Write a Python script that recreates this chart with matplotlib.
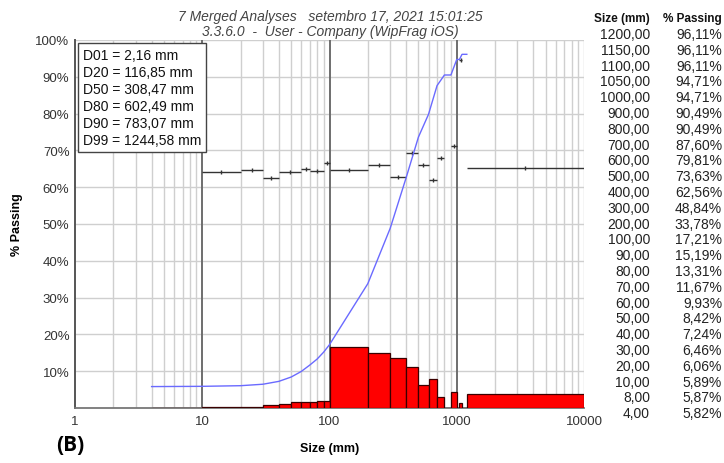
import matplotlib.pyplot as plt
import matplotlib.ticker as mticker
import numpy as np

plt.rcParams['font.family'] = ['Liberation Sans', 'DejaVu Sans']

# cumulative passing (table at right)
sizes = [1200, 1150, 1100, 1050, 1000, 900, 800, 700, 600, 500, 400, 300, 200,
         100, 90, 80, 70, 60, 50, 40, 30, 20, 10, 8, 4]
passing = [96.11, 96.11, 96.11, 94.71, 94.71, 90.49, 90.49, 87.60, 79.81, 73.63,
           62.56, 48.84, 33.78, 17.21, 15.19, 13.31, 11.67, 9.93, 8.42, 7.24,
           6.46, 6.06, 5.89, 5.87, 5.82]

# histogram bins (red bars)
bin_edges = [4, 8, 10, 20, 30, 40, 50, 60, 70, 80, 90, 100, 200, 300, 400, 500,
             600, 700, 800, 900, 1000, 1050, 1100, 1200, 10000]
bin_pct = [0.05, 0.02, 0.17, 0.40, 0.78, 1.18, 1.51, 1.74, 1.64, 1.88, 2.02,
           16.57, 15.06, 13.72, 11.07, 6.18, 7.79, 2.89, 0.0, 4.22, 0.0, 1.40,
           0.0, 3.89]

# black step segments
seg_lo = [10, 20, 30, 40, 60, 70, 90, 100, 200, 300, 400, 500, 600, 700, 900, 1050, 1200]
seg_hi = [20, 30, 40, 60, 70, 90, 100, 200, 300, 400, 500, 600, 700, 800, 1000, 1100, 10000]
seg_val = [64.0, 64.7, 62.5, 64.2, 64.9, 64.3, 66.5, 64.6, 65.9, 62.9, 69.3,
           65.9, 62.0, 67.9, 71.1, 94.5, 65.2]

d_labels = ['D01 = 2,16 mm', 'D20 = 116,85 mm', 'D50 = 308,47 mm',
            'D80 = 602,49 mm', 'D90 = 783,07 mm', 'D99 = 1244,58 mm']

W, H = 724, 464
fig = plt.figure(figsize=(W / 100, H / 100), dpi=100)
ax = fig.add_axes([75 / W, 1 - 409 / H, (584 - 75) / W, (409 - 41) / H])

ax.set_xscale('log')
ax.set_xlim(1, 10000)
ax.set_ylim(0, 100)

# grid
for dec in [1, 10, 100, 1000]:
    for m in range(2, 10):
        ax.axvline(dec * m, color='#cfcfcf', lw=1, zorder=0)
for dec in [10, 100, 1000]:
    ax.axvline(dec, color='#6e6e6e', lw=1.4, zorder=0.5)
ax.axvline(10000, color='#cfcfcf', lw=1, zorder=0)
for yv in range(10, 101, 10):
    ax.axhline(yv, color='#cfcfcf', lw=1, zorder=0)

# bars
lefts = np.array(bin_edges[:-1])
widths = np.array(bin_edges[1:]) - lefts
ax.bar(lefts, bin_pct, width=widths, align='edge', color='#ff0000',
       edgecolor='#3a0000', linewidth=0.9, zorder=3)

# black segments
ax.hlines(seg_val, seg_lo, seg_hi, color='#333333', lw=1.0, zorder=3.5)
mids = np.sqrt(np.array(seg_lo) * np.array(seg_hi))
ax.plot(mids, seg_val, ls='none', marker='|', ms=2.5, color='#333333', zorder=3.5)

# cumulative curve
ax.plot(sizes, passing, color='#6a6aff', lw=1.0, zorder=4)

ax.set_yticks(range(10, 101, 10))
ax.yaxis.set_major_formatter(mticker.FuncFormatter(lambda v, p: f'{int(v)}%'))
ax.set_xticks([1, 10, 100, 1000, 10000])
ax.xaxis.set_major_formatter(mticker.FuncFormatter(lambda v, p: f'{int(v)}'))
ax.xaxis.set_minor_locator(mticker.NullLocator())
ax.tick_params(length=0, labelsize=9.5, colors='#333333', pad=5)
ax.tick_params(axis='y', pad=4)

for s in ['top', 'right']:
    ax.spines[s].set_visible(False)
ax.spines['left'].set_color('#555555')
ax.spines['left'].set_linewidth(1.4)
ax.spines['bottom'].set_color('#777777')
ax.spines['bottom'].set_linewidth(1.3)

ax.set_xlabel('Size (mm)', fontsize=9, fontweight='bold', labelpad=11)
ax.set_ylabel('% Passing', fontsize=9, fontweight='bold', labelpad=9)

# D-values box
ax.text(0.015, 0.978, '\n'.join(d_labels), transform=ax.transAxes, va='top',
        ha='left', fontsize=10, color='#111111', linespacing=1.28, zorder=6,
        bbox=dict(boxstyle='square,pad=0.35', fc='white', ec='#444444', lw=1))

# title
fig.text(330 / W, 1 - 17 / H, '7 Merged Analyses   setembro 17, 2021 15:01:25',
         ha='center', va='center', fontsize=10, style='italic', color='#444444')
fig.text(330 / W, 1 - 32 / H, '3.3.6.0  -  User - Company (WipFrag iOS)',
         ha='center', va='center', fontsize=10, style='italic', color='#444444')

# table
fig.text(650 / W, 1 - 19 / H, 'Size (mm)', ha='right', va='center',
         fontsize=8.5, fontweight='bold', color='#111111')
fig.text(722 / W, 1 - 19 / H, '% Passing', ha='right', va='center',
         fontsize=8.5, fontweight='bold', color='#111111')
for i, (s, p) in enumerate(zip(sizes, passing)):
    yy = 35 + i * 15.8
    fig.text(650 / W, 1 - yy / H, f'{s:.2f}'.replace('.', ','), ha='right',
             va='center', fontsize=10, color='#222222')
    fig.text(722 / W, 1 - yy / H, f'{p:.2f}%'.replace('.', ','), ha='right',
             va='center', fontsize=10, color='#222222')

fig.text(70 / W, 1 - 446 / H, '(B)', ha='center', va='center', fontsize=15,
         fontweight='bold', family=['Open Sans', 'DejaVu Sans'])

fig.savefig('out.png', dpi=100)
